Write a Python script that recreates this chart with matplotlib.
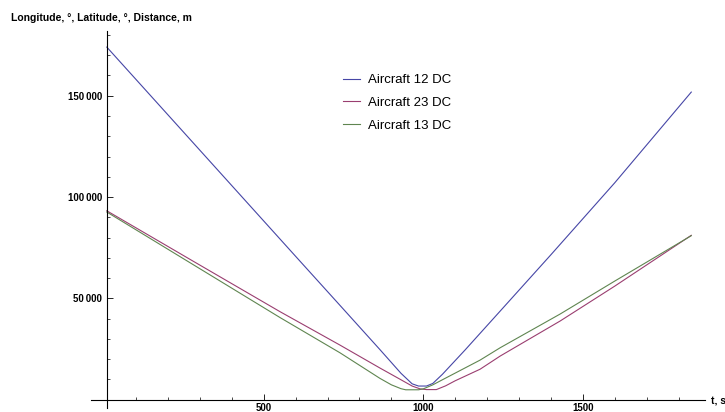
import matplotlib
matplotlib.use("Agg")
import matplotlib.pyplot as plt
from matplotlib.ticker import MultipleLocator, FixedLocator, FuncFormatter

plt.rcParams['font.family'] = ['Liberation Sans', 'DejaVu Sans']

# distances between aircraft pairs
t_12 = [8, 200, 400, 600, 739, 864, 930, 965, 985, 1010, 1030, 1060, 1131, 1241, 1400, 1600, 1840]
d_12 = [174000, 140500, 105600, 70700, 46500, 24700, 13000, 7800, 6700, 6700, 8000, 12500, 24500, 43700, 71500, 107000, 151800]

t_23 = [8, 280, 551, 739, 864, 930, 965, 990, 1010, 1041, 1070, 1100, 1178, 1241, 1429, 1600, 1840]
d_23 = [93200, 68200, 43400, 26900, 15600, 9800, 6700, 5300, 4950, 4950, 6800, 9300, 15000, 21500, 38800, 56000, 81100]

t_13 = [8, 280, 551, 739, 864, 900, 930, 945, 985, 1000, 1030, 1060, 1178, 1241, 1429, 1600, 1840]
d_13 = [92600, 66500, 40500, 23100, 10500, 7300, 5400, 4850, 4850, 5300, 7300, 9800, 19500, 25600, 42250, 58500, 80900]

labels = ["Aircraft 12 DC", "Aircraft 23 DC", "Aircraft 13 DC"]
colors = ["#4646A6", "#9A3E70", "#5F8550"]


def fmt(v, pos):
    return "{:,.0f}".format(v).replace(",", "\u2009")


fig = plt.figure(figsize=(7.25, 4.12), dpi=100)
ax = fig.add_axes([0.1262, 0.0104, 0.8462, 0.9146])
ax.set_xlim(-40, 1883)
ax.set_ylim(-4000, 182000)

for t, d, lab, c in zip([t_12, t_23, t_13], [d_12, d_23, d_13], labels, colors):
    ax.plot(t, d, color=c, lw=0.8, label=lab)

# mathematica style axes crossing
for s in ["top", "right"]:
    ax.spines[s].set_visible(False)
ax.spines["bottom"].set_position(("data", 0))
ax.spines["left"].set_position(("data", 8))
ax.spines["bottom"].set_linewidth(0.8)
ax.spines["left"].set_linewidth(0.8)

ax.xaxis.set_major_locator(FixedLocator([500, 1000, 1500]))
ax.xaxis.set_minor_locator(FixedLocator([100, 200, 300, 400, 600, 700, 800, 900,
                                         1100, 1200, 1300, 1400, 1600, 1700, 1800]))
ax.yaxis.set_major_locator(FixedLocator([50000, 100000, 150000]))
ax.yaxis.set_minor_locator(MultipleLocator(10000))
ax.yaxis.set_major_formatter(FuncFormatter(fmt))

ax.tick_params(which="major", direction="in", length=4, width=0.6, labelsize=7, pad=3.5)
ax.tick_params(axis="x", which="major", pad=2.5)
ax.tick_params(which="minor", direction="in", length=2.2, width=0.5)
for lbl in ax.get_xticklabels() + ax.get_yticklabels():
    lbl.set_fontweight("bold")

fig.text(11 / 725, 1 - 18 / 412, "Longitude, \u00b0, Latitude, \u00b0, Distance, m",
         fontsize=7.5, fontweight="bold", va="center", ha="left")
fig.text(711 / 725, 1 - 401 / 412, "t, s", fontsize=7.5, fontweight="bold",
         va="center", ha="left")

ax.legend(loc="upper left", bbox_to_anchor=(343 / 725, 1 - 74 / 412),
          bbox_transform=fig.transFigure, frameon=False, fontsize=9.5,
          handlelength=1.3, handletextpad=0.6, labelspacing=0.8,
          borderpad=0, borderaxespad=0)

fig.savefig("out.png", dpi=100)
